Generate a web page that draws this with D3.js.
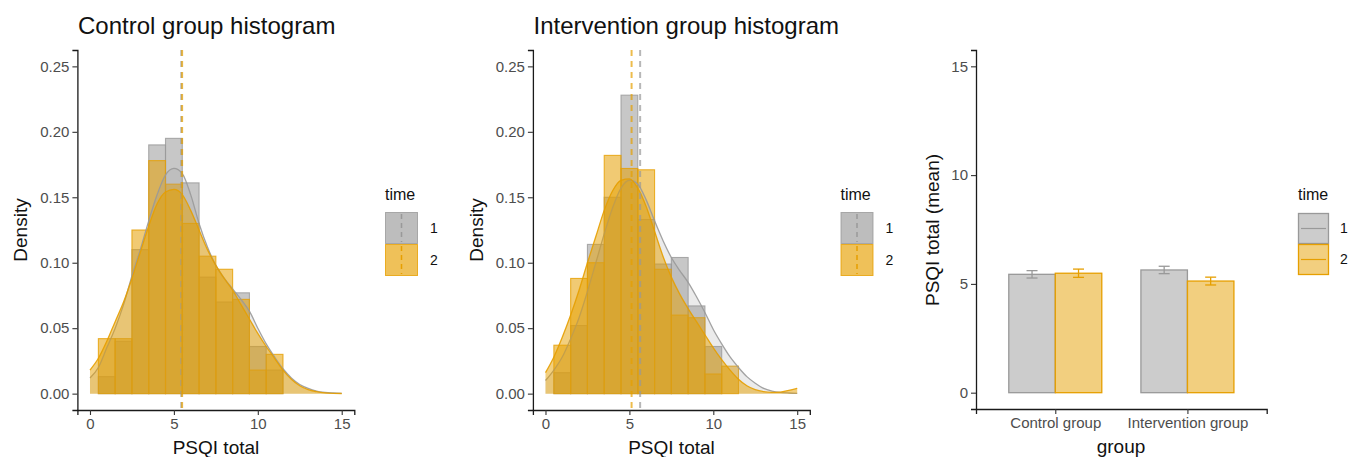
<!DOCTYPE html>
<html><head><meta charset="utf-8">
<script src="https://cdn.jsdelivr.net/npm/d3@7"></script>
<style>
body{margin:0;background:#fff;}
text{font-family:"Liberation Sans",Arial,Helvetica,sans-serif;}
</style>
</head><body>
<svg id="c" width="1348" height="457"></svg>
<script>
// ---------------- DATA ----------------
const times = ["1", "2"];
const groups = ["Control group", "Intervention group"];
const histTitles = ["Control group histogram", "Intervention group histogram"];

const binCenters = [1, 2, 3, 4, 5, 6, 7, 8, 9, 10, 11];
const controlT1Hist = [0.013, 0.040, 0.110, 0.190, 0.195, 0.161, 0.089, 0.070, 0.077, 0.036, 0.018];
const controlT2Hist = [0.042, 0.042, 0.125, 0.178, 0.160, 0.130, 0.105, 0.095, 0.072, 0.018, 0.030];
const interventionT1Hist = [0.016, 0.052, 0.114, 0.150, 0.228, 0.133, 0.099, 0.104, 0.067, 0.036, 0.000];
const interventionT2Hist = [0.037, 0.088, 0.100, 0.182, 0.172, 0.171, 0.095, 0.060, 0.058, 0.015, 0.021];

const densityX = [0, 0.5, 1, 1.5, 2, 2.5, 3, 3.5, 4, 4.5, 5, 5.5, 6, 6.5, 7, 7.5, 8, 8.5, 9, 9.5, 10, 10.5, 11, 11.5, 12, 12.5, 13, 13.5, 14, 14.5, 15];
const controlT1Density = [0.012, 0.020, 0.035, 0.050, 0.068, 0.090, 0.110, 0.132, 0.152, 0.167, 0.172, 0.168, 0.152, 0.130, 0.112, 0.098, 0.088, 0.080, 0.072, 0.063, 0.050, 0.038, 0.028, 0.019, 0.012, 0.007, 0.004, 0.002, 0.001, 0.0005, 0.0002];
const controlT2Density = [0.018, 0.027, 0.040, 0.055, 0.070, 0.088, 0.108, 0.128, 0.145, 0.154, 0.156, 0.152, 0.140, 0.125, 0.110, 0.098, 0.088, 0.079, 0.068, 0.057, 0.046, 0.036, 0.027, 0.018, 0.011, 0.006, 0.003, 0.0015, 0.0006, 0.0002, 0.0001];
const interventionT1Density = [0.010, 0.018, 0.028, 0.042, 0.058, 0.078, 0.100, 0.122, 0.142, 0.157, 0.163, 0.160, 0.148, 0.132, 0.117, 0.104, 0.094, 0.085, 0.074, 0.062, 0.049, 0.038, 0.028, 0.020, 0.013, 0.008, 0.004, 0.002, 0.001, 0.0005, 0.0002];
const interventionT2Density = [0.016, 0.028, 0.043, 0.060, 0.079, 0.100, 0.120, 0.140, 0.155, 0.163, 0.164, 0.157, 0.143, 0.124, 0.105, 0.089, 0.076, 0.065, 0.055, 0.045, 0.035, 0.026, 0.018, 0.011, 0.006, 0.003, 0.0015, 0.001, 0.0012, 0.0025, 0.004];

const meanT1 = [5.44, 5.64];
const meanT2 = [5.49, 5.13];
const seT1 = [0.17, 0.17];
const seT2 = [0.19, 0.18];

const densityTicks = [0, 0.05, 0.10, 0.15, 0.20, 0.25];
const psqiTicks = [0, 5, 10, 15];
const meanTicks = [0, 5, 10, 15];

// ---------------- STYLE ----------------
const GRAY = "#999999", ORANGE = "#E69F00";
const colors = [GRAY, ORANGE];
const densOpacity = [0.2, 0.5];
const tickColor = "#4d4d4d";

const svg = d3.select("#c");

function styleAxis(sel) {
  sel.select(".domain").attr("stroke", "#1a1a1a").attr("stroke-width", 1.3);
  sel.selectAll(".tick line").attr("stroke", "#333").attr("stroke-width", 1.1);
  sel.selectAll(".tick text").attr("fill", tickColor).attr("font-size", 15)
     .attr("font-family", '"Liberation Sans",Arial,sans-serif');
}

function drawHist(offset, title, hists, dens, means) {
  const g = svg.append("g").attr("transform", `translate(${offset},0)`);
  const x = d3.scaleLinear().domain([-0.75, 15.75]).range([77.4, 354.3]);
  const y = d3.scaleLinear().domain([-0.0125, 0.2625]).range([410, 50]);

  // histograms
  hists.forEach((h, i) => {
    g.append("g").selectAll("rect").data(binCenters).join("rect")
      .attr("x", d => x(d - 0.5))
      .attr("width", d => x(d + 0.5) - x(d - 0.5))
      .attr("y", (d, j) => y(h[j]))
      .attr("height", (d, j) => y(0) - y(h[j]))
      .attr("fill", colors[i]).attr("fill-opacity", 0.55)
      .attr("stroke", colors[i]).attr("stroke-opacity", 0.8).attr("stroke-width", 1.1);
  });
  // densities
  dens.forEach((dv, i) => {
    const area = d3.area().x((d, j) => x(densityX[j])).y0(y(0)).y1(d => y(d)).curve(d3.curveMonotoneX);
    const line = d3.line().x((d, j) => x(densityX[j])).y(d => y(d)).curve(d3.curveMonotoneX);
    g.append("path").datum(dv).attr("d", area).attr("fill", colors[i]).attr("fill-opacity", densOpacity[i]);
    g.append("path").datum(dv).attr("d", line).attr("fill", "none")
      .attr("stroke", colors[i]).attr("stroke-width", 1.3).attr("stroke-opacity", 0.9);
  });
  // mean lines
  means.forEach((m, i) => {
    g.append("line").attr("x1", x(m)).attr("x2", x(m)).attr("y1", 50).attr("y2", 410)
      .attr("stroke", colors[i]).attr("stroke-opacity", 0.7).attr("stroke-width", 2)
      .attr("stroke-dasharray", "6,5");
  });

  // axes
  g.append("g").attr("transform", "translate(0,410)")
    .call(d3.axisBottom(x).tickValues(psqiTicks).tickSize(5).tickPadding(3).tickFormat(d3.format("d")))
    .call(styleAxis);
  g.append("g").attr("transform", "translate(77.4,0)")
    .call(d3.axisLeft(y).tickValues(densityTicks).tickSize(5).tickPadding(3).tickFormat(d3.format(".2f")))
    .call(styleAxis);

  g.append("text").attr("x", 78).attr("y", 34).attr("font-size", 24).attr("fill", "#111").text(title);
  g.append("text").attr("x", 216).attr("y", 454).attr("text-anchor", "middle").attr("font-size", 19).attr("fill", "#111").text("PSQI total");
  g.append("text").attr("transform", "translate(27,230) rotate(-90)").attr("text-anchor", "middle")
    .attr("font-size", 19).attr("fill", "#111").text("Density");

  // legend
  const lg = g.append("g").attr("transform", "translate(385,0)");
  lg.append("text").attr("x", 0).attr("y", 200).attr("font-size", 16).attr("fill", "#111").text("time");
  times.forEach((t, i) => {
    const ky = 212 + i * 32;
    lg.append("rect").attr("x", 0.5).attr("y", ky + 0.5).attr("width", 32).attr("height", 31)
      .attr("fill", colors[i]).attr("fill-opacity", 0.65).attr("stroke", colors[i]).attr("stroke-opacity", 0.8);
    lg.append("line").attr("x1", 16.5).attr("x2", 16.5).attr("y1", ky + 2).attr("y2", ky + 30)
      .attr("stroke", colors[i]).attr("stroke-width", 1.5).attr("stroke-dasharray", "5,4");
    lg.append("text").attr("x", 45).attr("y", ky + 16).attr("dy", "0.35em").attr("font-size", 14)
      .attr("fill", "#111").text(t);
  });
}

drawHist(0, histTitles[0], [controlT1Hist, controlT2Hist], [controlT1Density, controlT2Density], [meanT1[0], meanT2[0]]);
drawHist(455.5, histTitles[1], [interventionT1Hist, interventionT2Hist], [interventionT1Density, interventionT2Density], [meanT1[1], meanT2[1]]);

// ---------------- BAR PANEL ----------------
(function () {
  const g = svg.append("g");
  const x = d3.scalePoint().domain(groups).range([976, 1266.7]).padding(0.6);
  const y = d3.scaleLinear().domain([-0.75, 15.75]).range([409, 50]);
  const bw = 46.5;
  const inner = d3.scaleBand().domain(times).range([-bw, bw]);
  const means = [meanT1, meanT2];
  const ses = [seT1, seT2];

  times.forEach((t, i) => {
    g.append("g").selectAll("rect").data(groups).join("rect")
      .attr("x", d => x(d) + inner(t))
      .attr("width", inner.bandwidth())
      .attr("y", (d, j) => y(means[i][j]))
      .attr("height", (d, j) => y(0) - y(means[i][j]))
      .attr("fill", colors[i]).attr("fill-opacity", 0.5)
      .attr("stroke", colors[i]).attr("stroke-width", 1.3);
    const eb = g.append("g").selectAll("g").data(groups).join("g")
      .attr("stroke", colors[i]).attr("stroke-width", 1.3);
    const cx = d => x(d) + inner(t) + inner.bandwidth() / 2;
    eb.append("line").attr("x1", cx).attr("x2", cx)
      .attr("y1", (d, j) => y(means[i][j] - ses[i][j])).attr("y2", (d, j) => y(means[i][j] + ses[i][j]));
    [-1, 1].forEach(s => {
      eb.append("line").attr("x1", d => cx(d) - 5.5).attr("x2", d => cx(d) + 5.5)
        .attr("y1", (d, j) => y(means[i][j] + s * ses[i][j])).attr("y2", (d, j) => y(means[i][j] + s * ses[i][j]));
    });
  });

  g.append("g").attr("transform", "translate(0,409)")
    .call(d3.axisBottom(x).tickSize(5).tickPadding(3)).call(styleAxis);
  g.append("g").attr("transform", "translate(976,0)")
    .call(d3.axisLeft(y).tickValues(meanTicks).tickSize(5).tickPadding(3).tickFormat(d3.format("d")))
    .call(styleAxis);

  g.append("text").attr("x", 1121).attr("y", 453).attr("text-anchor", "middle").attr("font-size", 19).attr("fill", "#111").text("group");
  g.append("text").attr("transform", "translate(939,230) rotate(-90)").attr("text-anchor", "middle")
    .attr("font-size", 19).attr("fill", "#111").text("PSQI total (mean)");

  const lg = g.append("g").attr("transform", "translate(1298,0)");
  lg.append("text").attr("x", 0).attr("y", 200).attr("font-size", 16).attr("fill", "#111").text("time");
  times.forEach((t, i) => {
    const ky = 213 + i * 31;
    lg.append("rect").attr("x", 0.5).attr("y", ky + 0.5).attr("width", 30).attr("height", 30)
      .attr("fill", colors[i]).attr("fill-opacity", 0.5).attr("stroke", colors[i]).attr("stroke-width", 1.3);
    lg.append("line").attr("x1", 3).attr("x2", 28).attr("y1", ky + 15.5).attr("y2", ky + 15.5)
      .attr("stroke", colors[i]).attr("stroke-width", 1.2);
    lg.append("text").attr("x", 42).attr("y", ky + 15).attr("dy", "0.35em").attr("font-size", 14)
      .attr("fill", "#111").text(t);
  });
})();
</script>
</body></html>
